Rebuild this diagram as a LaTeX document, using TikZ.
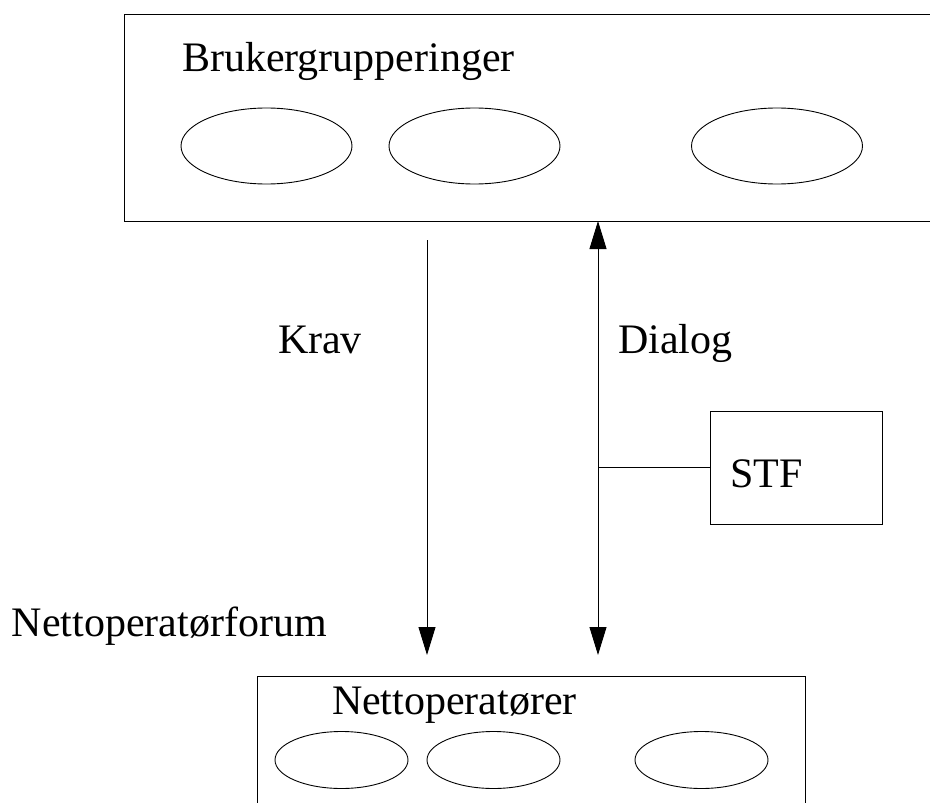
\documentclass[tikz,border=0pt]{standalone}
\usepackage{fontspec}
\setmainfont{Liberation Serif}
\usetikzlibrary{arrows.meta,shapes.geometric}
\begin{document}
\begin{tikzpicture}[x=1pt,y=-1pt,
  every node/.style={inner sep=0pt,outer sep=0pt},
  frame/.style={draw,line width=1pt,rectangle},
  bigoval/.style={draw,line width=0.9pt,ellipse,minimum width=171pt,minimum height=76pt},
  smalloval/.style={draw,line width=0.9pt,ellipse,minimum width=133pt,minimum height=57pt},
  lbl/.style={anchor=base west,font=\fontsize{42}{50}\selectfont},
  conn/.style={line width=0.9pt},
  tip/.style={-{Triangle[length=28pt,width=17pt]}},
  tips/.style={{Triangle[length=28pt,width=17pt]}-{Triangle[length=28pt,width=17pt]}}]
\useasboundingbox (0,0) rectangle (930,803);
\clip (0,0) rectangle (930,803);
% top box
\node[frame,minimum width=826pt,minimum height=207pt] (top) at (537,117.5) {};
\node[lbl] (tb) at (182,71) {Brukergrupperinger};
\node[bigoval] (e1) at (266.5,146) {};
\node[bigoval] (e2) at (474.5,146) {};
\node[bigoval] (e3) at (777,146) {};
% bottom box
\node[frame,minimum width=548pt,minimum height=150pt] (bot) at (531,751) {};
\node[lbl] (bb) at (332,714) {Nettoperatører};
\node[smalloval] (f1) at (341.5,760) {};
\node[smalloval] (f2) at (493.5,760) {};
\node[smalloval] (f3) at (701.5,760) {};
% labels
\node[lbl] (krav) at (278,353) {Krav};
\node[lbl] (dialog) at (618,353) {Dialog};
\node[lbl] (forum) at (12,636) {Nettoperatørforum};
% STF
\node[frame,minimum width=172pt,minimum height=113pt] (stf) at (796,467.5) {};
\node[lbl] (stft) at (730,487) {STF};
% connectors
\coordinate (ks) at (427,240);
\coordinate (ke) at (427,655);
\coordinate (de) at (598,655);
\coordinate (ds) at ([xshift=0pt]top.south -| de);
\coordinate (dj) at (stf.west -| de);
\draw[conn,tip] (ks) -- (ke);
\draw[conn,tips] (ds) -- (de);
\draw[conn] (dj) -- (stf.west);
\end{tikzpicture}
\end{document}
